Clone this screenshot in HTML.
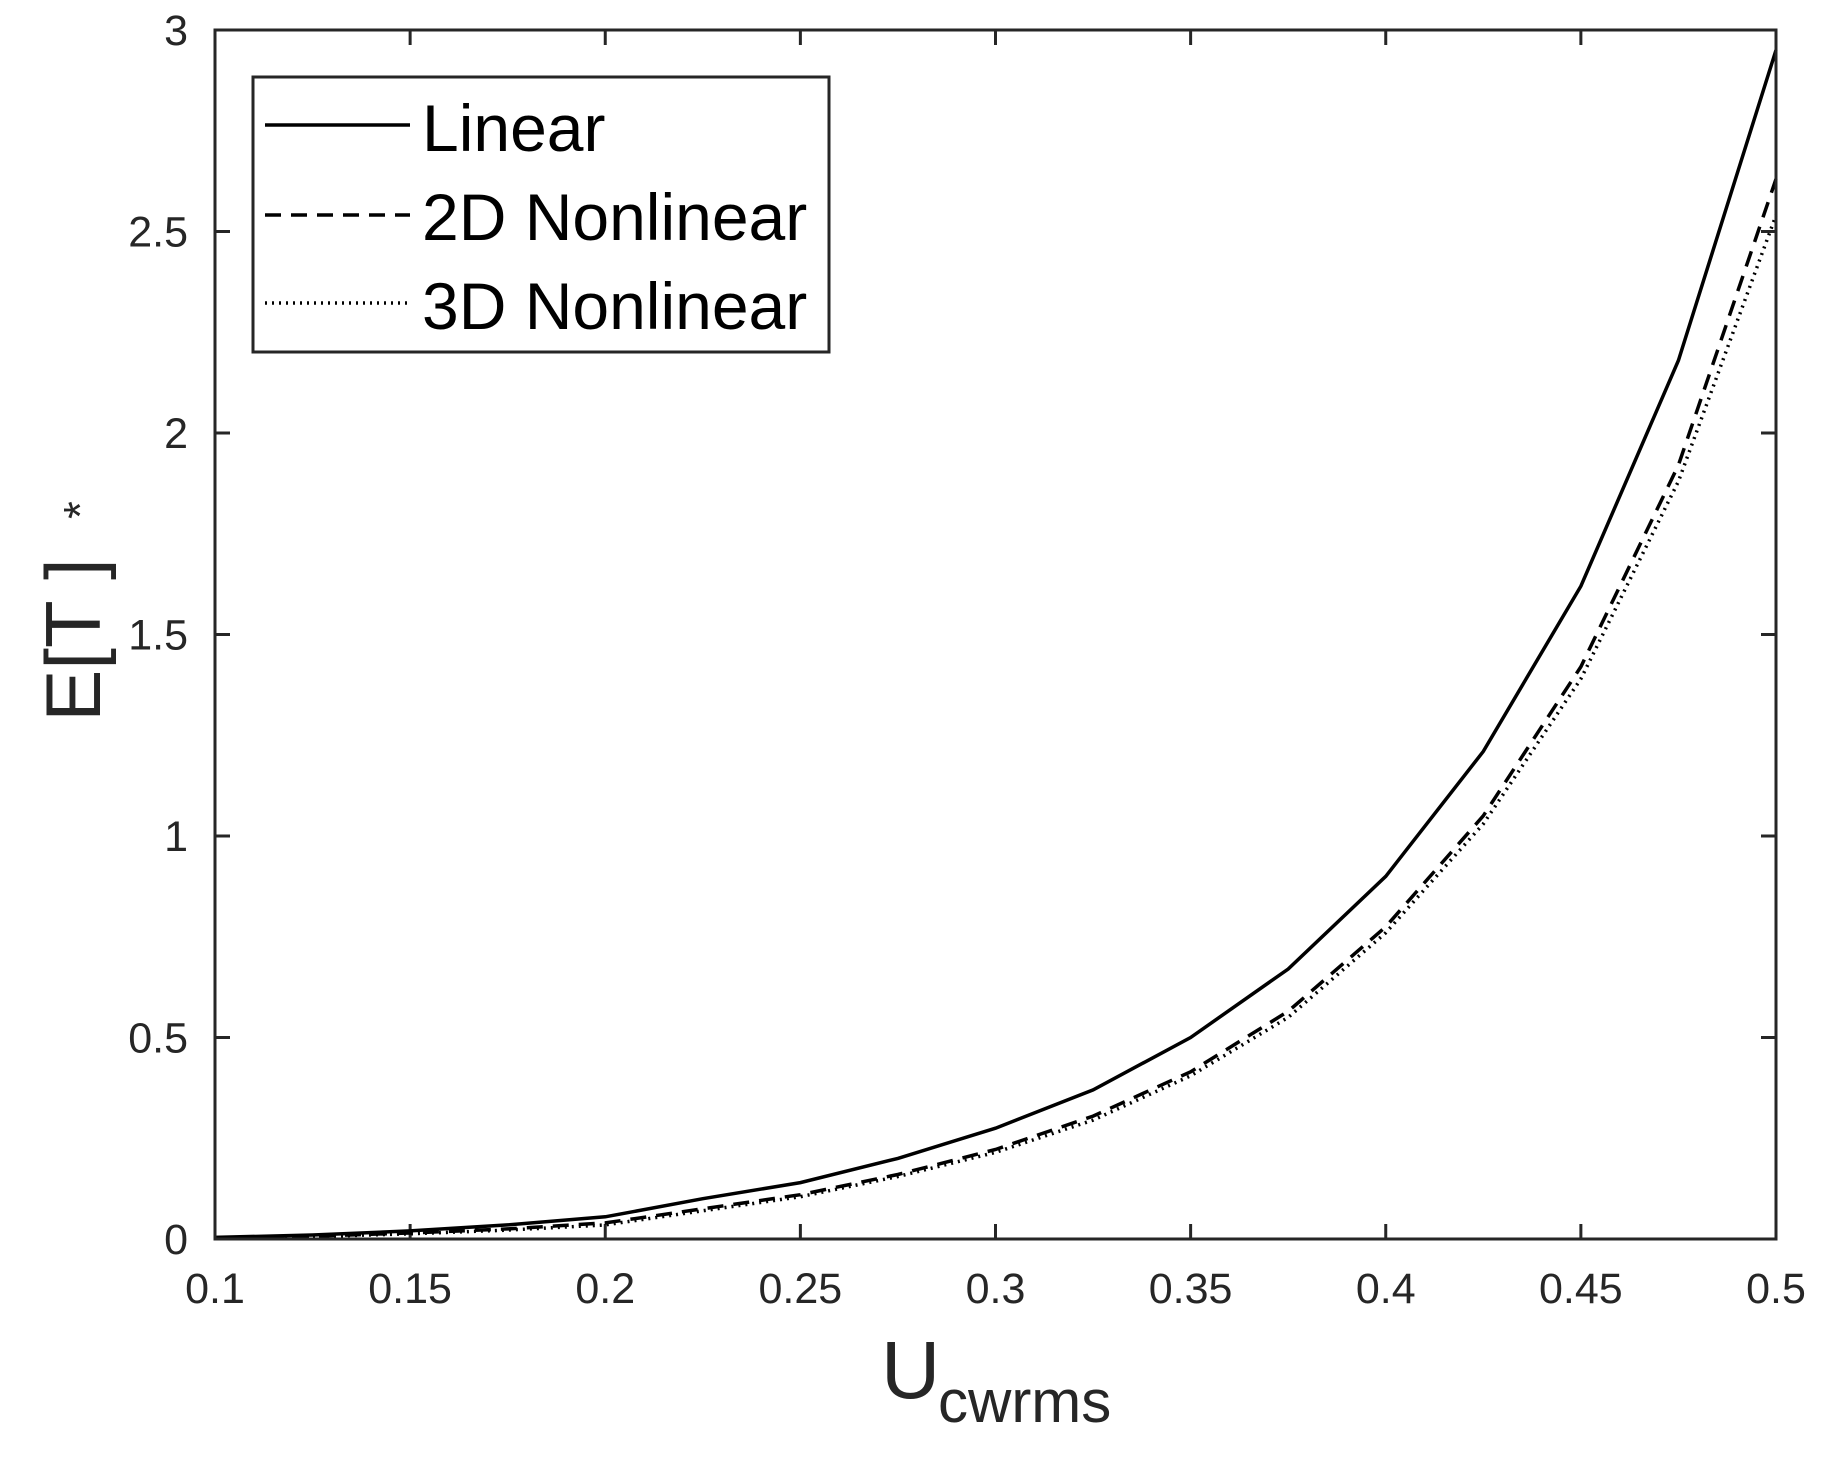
<!DOCTYPE html>
<html><head><meta charset="utf-8"><style>
html,body{margin:0;padding:0;background:#fff}
svg{display:block}
text{font-family:"Liberation Sans",sans-serif;fill:#262626}
</style></head><body>
<svg id="s" width="1826" height="1460" viewBox="0 0 1826 1460" xmlns="http://www.w3.org/2000/svg">
<rect x="0" y="0" width="1826" height="1460" fill="#fff"/>
<g id="ticks" stroke="#262626" stroke-width="3"></g>
<g id="series" fill="none" stroke="#000" stroke-width="3.5"></g>
<rect x="215" y="30" width="1561" height="1209" fill="none" stroke="#262626" stroke-width="3"/>
<g id="labels" font-size="43" ></g>
<text x="0" y="0" font-size="78" transform="translate(100,640) rotate(-90)" text-anchor="middle">E[T ]</text>
<text x="0" y="0" font-size="46" transform="translate(96,510) rotate(-90)" text-anchor="middle">*</text>
<text x="881" y="1398" font-size="82">U</text>
<text x="938" y="1422" font-size="60">cwrms</text>
<rect x="253" y="77" width="576" height="275" fill="#fff" stroke="#262626" stroke-width="3"/>
<line x1="265" y1="125" x2="410" y2="125" stroke="#000" stroke-width="3.5"/>
<line x1="265" y1="215" x2="410" y2="215" stroke="#000" stroke-width="3.5" stroke-dasharray="16,10"/>
<line x1="265" y1="303" x2="410" y2="303" stroke="#000" stroke-width="3.5" stroke-dasharray="2,5"/>
<g font-size="66"><text x="422" y="151" style="fill:#000">Linear</text><text x="422" y="240" style="fill:#000">2D Nonlinear</text><text x="422" y="329" style="fill:#000">3D Nonlinear</text></g>
</svg>
<script>
var X=function(x){return 215+(x-0.1)*3902.5},Y=function(v){return 1239-v*403.0};
var ns="http://www.w3.org/2000/svg",t=document.getElementById("ticks"),l=document.getElementById("labels"),s=document.getElementById("series");
function el(p,n,a){var e=document.createElementNS(ns,n);for(var k in a)e.setAttribute(k,a[k]);p.appendChild(e);return e}
for(var i=0;i<=8;i++){var x=0.1+i*0.05,px=X(x);
 el(t,"line",{x1:px,y1:1239,x2:px,y2:1224});el(t,"line",{x1:px,y1:30,x2:px,y2:45});
 var tx=el(l,"text",{x:px,y:1303,"text-anchor":"middle"});tx.textContent=(+x.toFixed(2)).toString();}
for(var i=0;i<=6;i++){var v=i*0.5,py=Y(v);
 el(t,"line",{x1:215,y1:py,x2:230,y2:py});el(t,"line",{x1:1776,y1:py,x2:1761,y2:py});
 var ty=el(l,"text",{x:188,y:py+15,"text-anchor":"end"});ty.textContent=v.toString();}
var xs=[0.1,0.125,0.15,0.175,0.2,0.225,0.25,0.275,0.3,0.325,0.35,0.375,0.4,0.425,0.45,0.475,0.5];
var lin=[0.004,0.01,0.02,0.035,0.055,0.1,0.14,0.2,0.275,0.37,0.5,0.67,0.9,1.21,1.62,2.18,2.95];
var d2=[0.003,0.007,0.015,0.025,0.04,0.075,0.11,0.16,0.222,0.305,0.415,0.565,0.775,1.05,1.42,1.92,2.63];
var d3=[0.003,0.006,0.013,0.022,0.035,0.07,0.105,0.155,0.215,0.295,0.405,0.55,0.76,1.03,1.39,1.88,2.54];
function path(v,da){var d="";for(var i=0;i<xs.length;i++)d+=(i?"L":"M")+X(xs[i]).toFixed(1)+","+Y(v[i]).toFixed(1);
 var a={d:d};if(da)a["stroke-dasharray"]=da;el(s,"path",a)}
path(lin);path(d2,"16,10");path(d3,"2,5");
</script>
</body></html>
